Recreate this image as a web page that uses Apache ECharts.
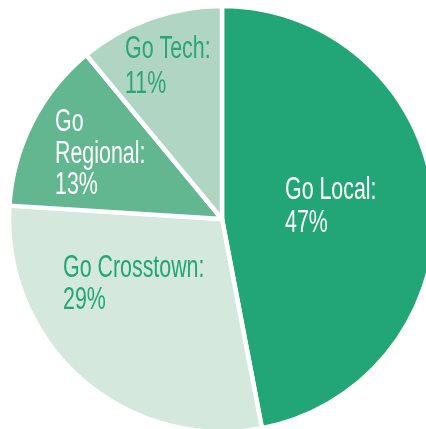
<!DOCTYPE html>
<html>
<head>
<meta charset="utf-8">
<style>
  html, body { margin: 0; padding: 0; background: #ffffff; }
  #chart { width: 426px; height: 429px; }
</style>
<script src="https://cdn.jsdelivr.net/npm/echarts@6/dist/echarts.min.js"></script>
</head>
<body>
<div id="chart"></div>
<script>
// Service share by line
const categories = ['Go Local', 'Go Crosstown', 'Go Regional', 'Go Tech'];
const shares = [47, 29, 13, 11];
const labelNames = ['Go Local:', 'Go Crosstown:', 'Go\nRegional:', 'Go Tech:'];

const sliceColors = ['#22a677', '#d4e8de', '#62b690', '#b0d5c3'];
const textColors = ['#ffffff', '#22a677', '#ffffff', '#2aa676'];
// label anchor (top-left) and line pitch inside each slice
const labelSpots = [[285, 174, 33], [63, 252, 32], [55, 107, 31.5], [125, 32, 35]];

const chart = echarts.init(document.getElementById('chart'), null, { renderer: 'canvas' });

const data = categories.map((name, i) => ({
  name,
  value: shares[i],
  itemStyle: { color: sliceColors[i] }
}));

// condensed labels: a regular sans squeezed horizontally
const labels = categories.map((name, i) => ({
  type: 'text',
  x: labelSpots[i][0],
  y: labelSpots[i][1],
  scaleX: 0.69,
  z: 100,
  silent: true,
  style: {
    text: labelNames[i] + '\n' + shares[i] + '%',
    fill: textColors[i],
    fontFamily: '"Liberation Sans", Arial, sans-serif',
    fontSize: 31,
    lineHeight: labelSpots[i][2],
    verticalAlign: 'top',
    align: 'left'
  }
}));

chart.setOption({
  animation: false,
  graphic: labels,
  series: [{
    type: 'pie',
    center: [222, 219],
    radius: [0, 213],
    startAngle: 90,
    clockwise: true,
    itemStyle: { borderColor: '#ffffff', borderWidth: 4.5 },
    label: { show: false },
    labelLine: { show: false },
    emphasis: { disabled: true },
    data
  }]
});
</script>
</body>
</html>
